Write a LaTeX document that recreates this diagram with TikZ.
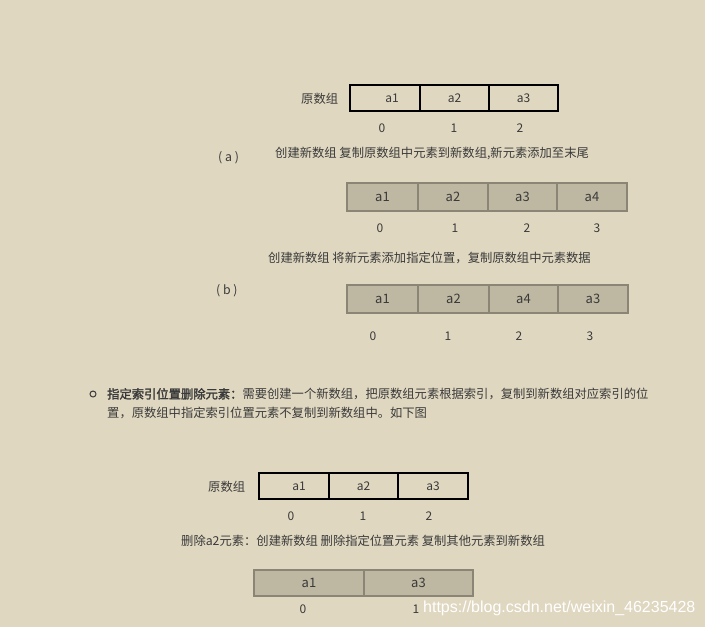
\documentclass[tikz,border=0pt]{standalone}
\usepackage{fontspec}
\setmainfont{Noto Sans CJK SC}[AutoFakeBold=2]
\newfontfamily\urlfont{Liberation Sans}
\usepackage{tikz}
\usepackage{xcolor}
\usetikzlibrary{positioning}
\definecolor{paper}{HTML}{DFD7C0}
\definecolor{cellfill}{HTML}{BEB8A2}
\definecolor{cellline}{HTML}{8A8574}
\definecolor{ink}{HTML}{3A3A3A}
\tikzset{
  oldcell/.style={draw=black, line width=1.6pt, minimum height=26pt,
    outer sep=0pt, inner sep=0pt, text=ink, font=\fontsize{12}{14}\selectfont},
  newcell/.style={draw=cellline, fill=cellfill, line width=2pt, minimum height=28pt,
    outer sep=0pt, inner sep=0pt, text=ink, font=\fontsize{13}{15}\selectfont},
  idx/.style={inner sep=0pt, text=ink, font=\fontsize{12}{14}\selectfont},
  note/.style={inner sep=0pt, anchor=west, text=ink, font=\fontsize{12.3}{14}\selectfont}
}
\begin{document}
\begin{tikzpicture}[x=1pt, y=-1pt]
  \fill[paper] (0,0) rectangle (705,627);
  \useasboundingbox (0,0) rectangle (705,627);

  \node[note] (olda) at (301,99) {原数组};
  \node[oldcell, minimum width=70pt, anchor=west] (oa1) at (350,98) {\hspace{14pt}a1};
  \node[oldcell, minimum width=69pt, right=0pt of oa1] (oa2) {a2};
  \node[oldcell, minimum width=69pt, right=0pt of oa2] (oa3) {a3};
  \node[idx] (ia0) at (382,128) {0};
  \node[idx] (ia1) at (454,128) {1};
  \node[idx] (ia2) at (520,128) {2};

  \node[note] (tagA) at (218,158) {( a )};
  \node[note] (stepA) at (275,153) {创建新数组 复制原数组中元素到新数组,新元素添加至末尾};

  \node[newcell, minimum width=71pt, anchor=west] (na1) at (347,197) {a1};
  \node[newcell, minimum width=70pt, right=0pt of na1] (na2) {a2};
  \node[newcell, minimum width=69pt, right=0pt of na2] (na3) {a3};
  \node[newcell, minimum width=70pt, right=0pt of na3] (na4) {a4};
  \node[idx] (ja0) at (380,228) {0};
  \node[idx] (ja1) at (455,228) {1};
  \node[idx] (ja2) at (527,228) {2};
  \node[idx] (ja3) at (597,228) {3};

  \node[note] (stepB) at (268,258) {创建新数组 将新元素添加指定位置，复制原数组中元素数据};
  \node[note] (tagB) at (216,291) {( b )};

  \node[newcell, minimum width=71pt, anchor=west] (nb1) at (347,299) {a1};
  \node[newcell, minimum width=71pt, right=0pt of nb1] (nb2) {a2};
  \node[newcell, minimum width=69pt, right=0pt of nb2] (nb3) {a4};
  \node[newcell, minimum width=70pt, right=0pt of nb3] (nb4) {a3};
  \node[idx] (jb0) at (373,336) {0};
  \node[idx] (jb1) at (448,336) {1};
  \node[idx] (jb2) at (519,336) {2};
  \node[idx] (jb3) at (590,336) {3};

  \node[circle, draw=ink, line width=1pt, minimum size=6pt, inner sep=0pt] (dot) at (93,394) {};
  \node[note] (del1) at (107,394) {{\bfseries 指定索引位置删除元素：}需要创建一个新数组，把原数组元素根据索引，复制到新数组对应索引的位};
  \node[note] (del2) at (107,413) {置，原数组中指定索引位置元素不复制到新数组中。如下图};

  \node[note] (oldc) at (208,487) {原数组};
  \node[oldcell, minimum width=70pt, anchor=west] (oc1) at (259,486) {\hspace{10pt}a1};
  \node[oldcell, minimum width=69pt, right=0pt of oc1] (oc2) {a2};
  \node[oldcell, minimum width=70pt, right=0pt of oc2] (oc3) {a3};
  \node[idx] (ic0) at (291,516) {0};
  \node[idx] (ic1) at (363,516) {1};
  \node[idx] (ic2) at (429,516) {2};

  \node[note] (stepC) at (181,541) {删除a2元素：创建新数组 删除指定位置元素 复制其他元素到新数组};

  \node[newcell, minimum width=110pt, minimum height=26pt, anchor=west] (nc1) at (254,583) {a1};
  \node[newcell, minimum width=109pt, minimum height=26pt, right=0pt of nc1] (nc2) {a3};
  \node[idx] (jc0) at (303,609) {0};
  \node[idx] (jc1) at (416,609) {1};

  \node[inner sep=0pt, anchor=west, text=white, font=\urlfont\fontsize{16}{18}\selectfont] (mark) at (423,608) {https://blog.csdn.net/weixin\_46235428};
\end{tikzpicture}
\end{document}
